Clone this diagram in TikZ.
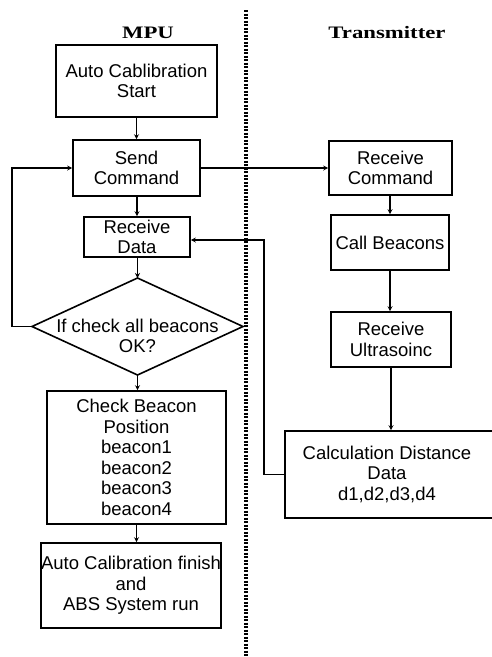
\documentclass[tikz,border=0pt]{standalone}
\usepackage{fontspec}
\usepackage{graphicx}
\setmainfont{Liberation Sans}
\newfontfamily\hdrfont{Liberation Serif}
\usetikzlibrary{arrows.meta,shapes.geometric}
\begin{document}
\begin{tikzpicture}[x=1pt,y=-1pt,
  txt/.style={font=\fontsize{18.5}{20.5}\selectfont,align=center,inner sep=0pt},
  box/.style={draw,line width=1.6pt,rectangle,inner sep=0pt,align=center,
    font=\fontsize{18.5}{20.5}\selectfont},
  hdr/.style={font=\hdrfont\bfseries\fontsize{17.5}{18}\selectfont},
  flow/.style={line width=1.6pt,-{Stealth[length=5pt,width=5pt]}},
  divider/.style={line width=3.4pt,dash pattern=on 2.2pt off 1.3pt}]
\clip (0,0) rectangle (492,657);
\fill[white] (0,0) rectangle (492,657);
% divider
\coordinate (dtop) at (246,10);
\coordinate (dbot) at (246,657);
\draw[divider] (dtop) -- (dbot);
% headers
\node[hdr] (mpu) at (148,33) {\scalebox{1.3}[1]{MPU}};
\node[hdr] (tx) at (387,33) {\scalebox{1.3}[1]{Transmitter}};
% MPU side
\node[box,minimum width=161pt,minimum height=72pt] (start) at (136.5,81) {Auto Cablibration\\Start};
\node[box,minimum width=127pt,minimum height=56pt] (send) at (136.5,168) {Send\\Command};
\node[box,minimum width=106pt,minimum height=40pt] (recv) at (137,237) {Receive\\Data};
\coordinate (dT) at (137.5,278);
\coordinate (dL) at (32,326.5);
\coordinate (dR) at (243,326.5);
\coordinate (dB) at (137.5,375);
\draw[line width=1.6pt] (dT) -- (dR) -- (dB) -- (dL) -- cycle;
\node[txt] (chktxt) at (137.5,336) {If check all beacons\\OK?};
\node[box,minimum width=179pt,minimum height=133pt] (pos) at (136.5,457.5) {Check Beacon\\Position\\beacon1\\beacon2\\beacon3\\beacon4};
\node[box,minimum width=174pt,minimum height=85pt] (fin) at (131,585.5) {Auto Calibration finish\\and\\ABS System run};
% Transmitter side
\node[box,minimum width=123pt,minimum height=54pt] (rcmd) at (390.5,168) {Receive\\Command};
\node[box,minimum width=118pt,minimum height=55pt] (call) at (390,242.5) {Call Beacons};
\node[box,minimum width=120pt,minimum height=55pt] (rult) at (391,339.5) {Receive\\Ultrasoinc};
\node[box,minimum width=212pt,minimum height=87pt] (calc) at (391,474.5) {};
\node[txt] (calctxt) at (387,474) {Calculation Distance\\Data\\d1,d2,d3,d4};
% connectors
\draw[flow] (start.south -| send.north) -- (send.north);
\draw[flow] (send.south -| recv.north) -- (recv.north);
\draw[flow] (recv.south -| dT) -- (dT);
\draw[flow] (dB) -- (pos.north -| dB);
\draw[flow] (pos.south) -- (pos.south |- fin.north);
\coordinate (lpA) at (12,326.5);
\coordinate (lpB) at (12,168);
\draw[flow] (dL) -- (lpA) -- (lpB) -- (send.west);
\draw[flow] (send.east) -- (rcmd.west);
\draw[flow] (rcmd.south -| call.north) -- (call.north);
\draw[flow] (call.south) -- (call.south |- rult.north);
\draw[flow] (rult.south) -- (rult.south |- calc.north);
\coordinate (rtA) at (264,474.5);
\coordinate (rtB) at (264,240);
\draw[flow] (calc.west) -- (rtA) -- (rtB) -- (recv.east |- rtB);
\end{tikzpicture}
\end{document}
